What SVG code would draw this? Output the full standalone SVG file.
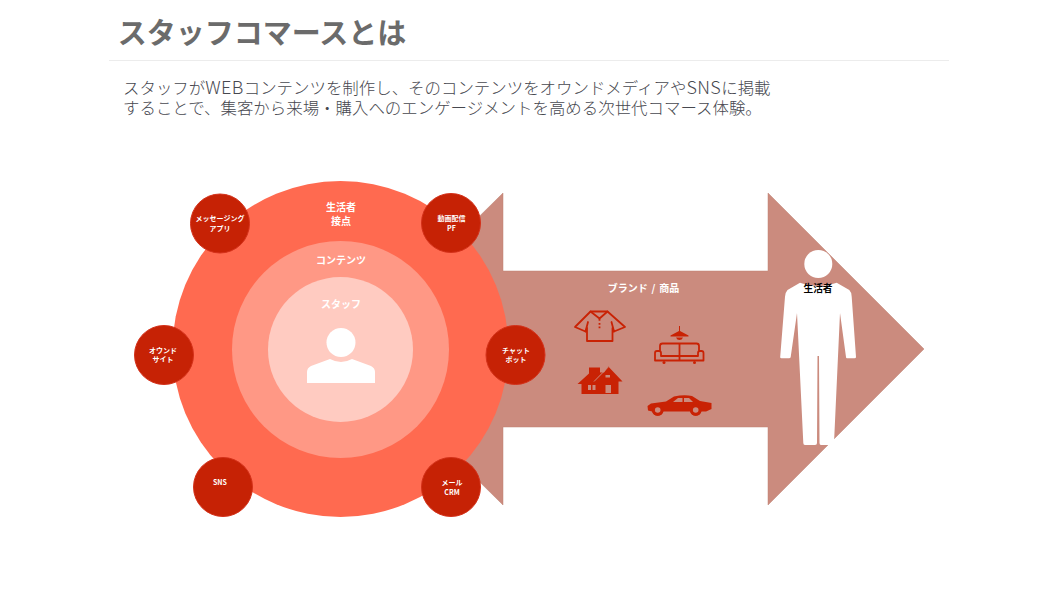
<svg xmlns="http://www.w3.org/2000/svg" width="1050" height="591" viewBox="0 0 1050 591">
<style>
text{font-family:"Noto Sans CJK JP","Noto Sans",sans-serif;text-anchor:middle}
.w{fill:#fff;font-weight:700}
.s{font-size:7px}
.b{font-size:16.450px;fill:#47484f;text-anchor:start;font-weight:300}
.l{font-size:18px;letter-spacing:.4px}
.ic{fill:#c92204}
.ol{fill:none;stroke:#c92204;stroke-width:1.800;stroke-linejoin:round;stroke-linecap:round}
.bg{fill:#cb8b7e}
.sm{fill:#c62205;stroke:#d4311a;stroke-width:1}
.p{fill:#fff}
</style>
<rect width="1050" height="591" fill="#fff"/>
<g id="header">
<text x="262" y="44" font-size="29" font-weight="700" fill="#6b6b6b">スタッフコマースとは</text>
<line x1="109" y1="60.500" x2="949" y2="60.500" stroke="#ececec" stroke-width="1"/>
<text class="b" x="123" y="94">スタッフが<tspan class="l">WEB</tspan>コンテンツを制作し、そのコンテンツをオウンドメディアや<tspan class="l">SNS</tspan>に掲載</text>
<text class="b" x="123" y="113.500">することで、集客から来場・購入へのエンゲージメントを高める次世代コマース体験。</text>
</g>
<g id="arrow">
<polygon points="345,349 503,193 503,271 768,271 768,193 924,349 768,505 768,427 503,427 503,505" fill="#cb8b7e" stroke="#bd8073" stroke-width="0.500"/>
<text class="w" x="643.500" y="292" font-size="10" style="word-spacing:1.500px">ブランド / 商品</text>
</g>
<g id="circles">
<circle cx="340.500" cy="349" r="168" fill="#ff6a50"/>
<circle cx="340.500" cy="349.500" r="108.500" fill="#ff9885"/>
<circle cx="340.500" cy="349.500" r="72.500" fill="#ffcbc1"/>
<text class="w" x="341" y="211" font-size="10">生活者</text>
<text class="w" x="341" y="225" font-size="10">接点</text>
<text class="w" x="341" y="264" font-size="10">コンテンツ</text>
<text class="w" x="341" y="308" font-size="10">スタッフ</text>
</g>
<g id="staff-icon">
<ellipse class="p" cx="341" cy="342.500" rx="14.500" ry="14.500"/>
<path class="p" d="M307 383V372Q307 368 311 366L330 359Q341 365 352 359L371 366Q375 368 375 372V383Z"/>
</g>
<g id="node-message"><circle class="sm" cx="220" cy="223.500" r="29.500"/><text class="w s" x="220" y="221">メッセージング</text><text class="w s" x="220" y="231">アプリ</text></g>
<g id="node-video"><circle class="sm" cx="451" cy="223" r="29.500"/><text class="w s" x="451.500" y="221">動画配信</text><text class="w s" x="451.500" y="231">PF</text></g>
<g id="node-owned"><circle class="sm" cx="164" cy="355" r="29.500"/><text class="w s" x="163" y="353">オウンド</text><text class="w s" x="163" y="362">サイト</text></g>
<g id="node-chat"><circle class="sm" cx="515.500" cy="355" r="29.500"/><text class="w s" x="516" y="353">チャット</text><text class="w s" x="516" y="362">ボット</text></g>
<g id="node-sns"><circle class="sm" cx="223" cy="487" r="29.500"/><text class="w s" x="220" y="485">SNS</text></g>
<g id="node-mail"><circle class="sm" cx="451" cy="487" r="29.500"/><text class="w s" x="452" y="485">メール</text><text class="w s" x="452" y="495">CRM</text></g>
<g id="icons">
<path class="ol" d="M590.500 311.500H607.500L625 327L614 331.500L612.500 328V341H587V328L585.500 331.500L575 327Z"/>
<path class="ol" d="M590.500 311.500L599.500 318.500L607.500 311.500M585.500 331.500L588 322M614 331.500L611.500 322"/>
<path class="ic" d="M598.600 319h1.800v1.800h-1.800ZM598.600 323h1.800v1.800h-1.800ZM598.600 326.500h1.800v1.800h-1.800Z"/>
<path class="ic" d="M679 326H680V331L688.500 335.500V336.500H670.500V335.500L679 331ZM676 337.500h7Q682 340 679.500 340Q677 340 676 337.500Z"/>
<path class="ol" d="M655 360.500V353Q655 351 657 351H659Q661 351 661 353V356H698V353Q698 351 700 351H701.500Q703.500 351 703.500 353V360.500ZM660 351V346Q660 343.500 662.500 343.500H696.500Q699 343.500 699 346V351M679.500 343.500V360.500"/>
<circle class="ic" cx="664" cy="362.500" r="1.500"/><circle class="ic" cx="694.500" cy="362.500" r="1.500"/>
<path class="ic" d="M577.500 384L589 373.500V367.500H600V372.500H604L608.300 366.500L622.500 381.500H618.500V394H581.500V384Z"/>
<path fill="none" stroke="#cb8b7e" stroke-width="1" d="M594 381.500L608.300 367"/>
<path class="ic" d="M647.500 406L651 403.500L666 401.500L674 396.500Q684 394.500 692 396L700 401L711.500 403V409L706 411.500H701.500A6 6 0 0 1 690 411.500H663.500A6 6 0 0 1 652 411.500L648 410.500Z"/>
<path class="bg" d="M673 402L678 398H682.500V402ZM684 398H689L693 402H684ZM588 385h3v5h-3ZM592.500 385h3v5h-3ZM605.500 375h4.500v2.500h-4.500ZM605.500 385h5.500v8h-5.500Z"/>
<circle class="ic" cx="657.700" cy="410" r="5.700"/><circle class="ic" cx="695.700" cy="410" r="5.700"/>
<circle class="bg" cx="657.700" cy="410" r="2.800"/><circle class="bg" cx="695.700" cy="410" r="2.800"/>
</g>
<g id="person">
<circle class="p" cx="818.300" cy="264" r="14"/>
<path class="p" d="M787.500 290L800 282.700Q818 290 836.700 282.700L849.300 290Q851.500 292 851.700 296.700L856 357Q856 358.300 854.500 358.300H847Q846 358.300 846 357L840 313L834 443Q834 445 832 445H821Q819.500 445 819.500 443L819 356H817.500L817 443Q817 445 815 445H805Q803.300 445 803.300 443L797 313L790.700 357Q790.500 358.300 789 358.300H781.500Q780 358.300 780.200 357L785 296.700Q785.500 292 787.500 290Z"/>
<text x="818" y="292" font-size="9.700" font-weight="700" fill="#000">生活者</text>
</g>
</svg>
